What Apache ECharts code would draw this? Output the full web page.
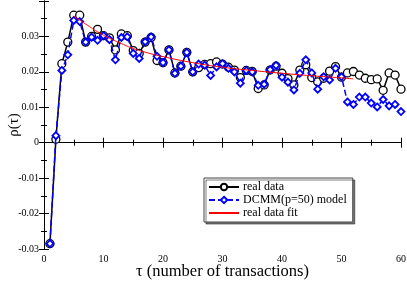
<!DOCTYPE html>
<html><head><meta charset="utf-8">
<script src="https://cdn.jsdelivr.net/npm/echarts@6/dist/echarts.min.js"></script>
<style>html,body{margin:0;padding:0;background:#fff}#c{width:407px;height:281px}</style>
</head><body><div id="c"></div>
<script>
const tau = [];
for (let i = 1; i <= 60; i++) tau.push(i);
const realData = [-0.0285,0.0010,0.0223,0.0284,0.0360,0.0360,0.0284,0.0300,0.0320,0.0302,
0.0296,0.0262,0.0307,0.0302,0.0260,0.0252,0.0284,0.0297,0.0232,0.0226,
0.0262,0.0197,0.0216,0.0255,0.0200,0.0212,0.0221,0.0223,0.0228,0.0222,
0.0213,0.0205,0.0184,0.0204,0.0201,0.0153,0.0163,0.0205,0.0216,0.0196,
0.0181,0.0163,0.0205,0.0220,0.0184,0.0172,0.0182,0.0202,0.0215,0.0185,
0.0197,0.0201,0.0191,0.0182,0.0178,0.0180,0.0148,0.0197,0.0191,0.0151];
const modelData = [-0.0285,0.0020,0.0204,0.0248,0.0345,0.0342,0.0284,0.0298,0.0289,0.0302,
0.0291,0.0234,0.0297,0.0299,0.0252,0.0238,0.0285,0.0299,0.0244,0.0226,
0.0262,0.0196,0.0216,0.0255,0.0200,0.0222,0.0219,0.0190,0.0214,0.0223,
0.0210,0.0200,0.0168,0.0204,0.0200,0.0162,0.0165,0.0206,0.0218,0.0185,
0.0171,0.0149,0.0196,0.0234,0.0197,0.0151,0.0186,0.0177,0.0210,0.0186,
0.0115,0.0108,0.0129,0.0129,0.0112,0.0101,0.0122,0.0104,0.0108,0.0088];
const fitTau = [5,7,9,11,13,15,18,20,25,30,35,40,45,50,52];
const fitVal = [0.0357,0.0335,0.0313,0.0295,0.0280,0.0266,0.0251,0.0243,0.0226,0.0213,0.0204,0.0196,0.0189,0.0183,0.0180];
const yTickLabels = {'-0.03':'-0.03','-0.02':'-0.02','-0.01':'-0.01','0':'0','0.01':'0.01','0.02':'0.02','0.03':'0.03'};

const chart = echarts.init(document.getElementById('c'));
const serif = 'Liberation Serif';
const axisCommon = {
  axisLine:{lineStyle:{color:'#000',width:1}},
  axisTick:{inside:true,length:5,lineStyle:{color:'#000'}},
  minorTick:{show:true,splitNumber:2,length:3,lineStyle:{color:'#000'}},
  splitLine:{show:false}
};
function yfmt(v){ const k = (Math.round(v*100)/100).toString(); return yTickLabels[k] !== undefined ? yTickLabels[k] : ''; }
chart.setOption({
  animation:false,
  grid:{left:44,right:6,top:1,bottom:32,containLabel:false,outerBoundsMode:'none'},
  xAxis:[
    Object.assign({type:'value',min:0,max:60,interval:10,position:'bottom',
      axisLabel:{fontFamily:serif,fontSize:10,color:'#000',margin:5},
      name:'τ (number of transactions)',nameLocation:'middle',nameGap:14,nameMoveOverlap:false,
      nameTextStyle:{fontFamily:serif,fontSize:16.5,color:'#000'}},axisCommon),
    Object.assign({type:'value',min:0,max:60,interval:10,position:'top',axisLabel:{show:false}},axisCommon)
  ],
  yAxis:[
    Object.assign({type:'value',min:-0.03,max:0.04,interval:0.01,position:'left',
      axisLabel:{fontFamily:serif,fontSize:10,color:'#000',margin:5,formatter:yfmt},
      name:'ρ(τ)',nameLocation:'middle',nameGap:22,nameRotate:90,nameMoveOverlap:false,
      nameTextStyle:{fontFamily:serif,fontSize:15,color:'#000'}},axisCommon),
    Object.assign({type:'value',min:-0.03,max:0.04,interval:0.01,position:'right',axisLabel:{show:false}},axisCommon)
  ],
  legend:{
    left:204,top:178,orient:'vertical',itemGap:1,itemWidth:30,itemHeight:8,
    padding:[3,6,3,4],
    backgroundColor:'#fff',borderColor:'#444',borderWidth:1,
    shadowColor:'rgba(0,0,0,0.5)',shadowOffsetX:2,shadowOffsetY:2,shadowBlur:0,
    textStyle:{fontFamily:serif,fontSize:12,color:'#000',padding:[0,0,0,-1]},
    data:['real data','DCMM(p=50) model',{name:'real data fit',itemStyle:{opacity:0}}]
  },
  series:[
    {name:'real data',type:'line',data:tau.map((t,i)=>[t,realData[i]]),
      symbol:'circle',symbolSize:8,showAllSymbol:true,
      itemStyle:{color:'#fff',borderColor:'#000',borderWidth:1.3},
      lineStyle:{color:'#000',width:1.5},color:'#000',z:2},
    {name:'DCMM(p=50) model',type:'line',data:tau.map((t,i)=>[t,modelData[i]]),
      symbol:'diamond',symbolSize:7,showAllSymbol:true,
      itemStyle:{color:'#fff',borderColor:'#0000ff',borderWidth:1.8},
      lineStyle:{color:'#0000ff',width:1.5,type:[6,3]},color:'#0000ff',z:3},
    {name:'real data fit',type:'line',data:fitTau.map((t,i)=>[t,fitVal[i]]),
      symbol:'none',smooth:true,lineStyle:{color:'#ff0000',width:1},color:'#ff0000',z:4}
  ]
});
</script></body></html>
